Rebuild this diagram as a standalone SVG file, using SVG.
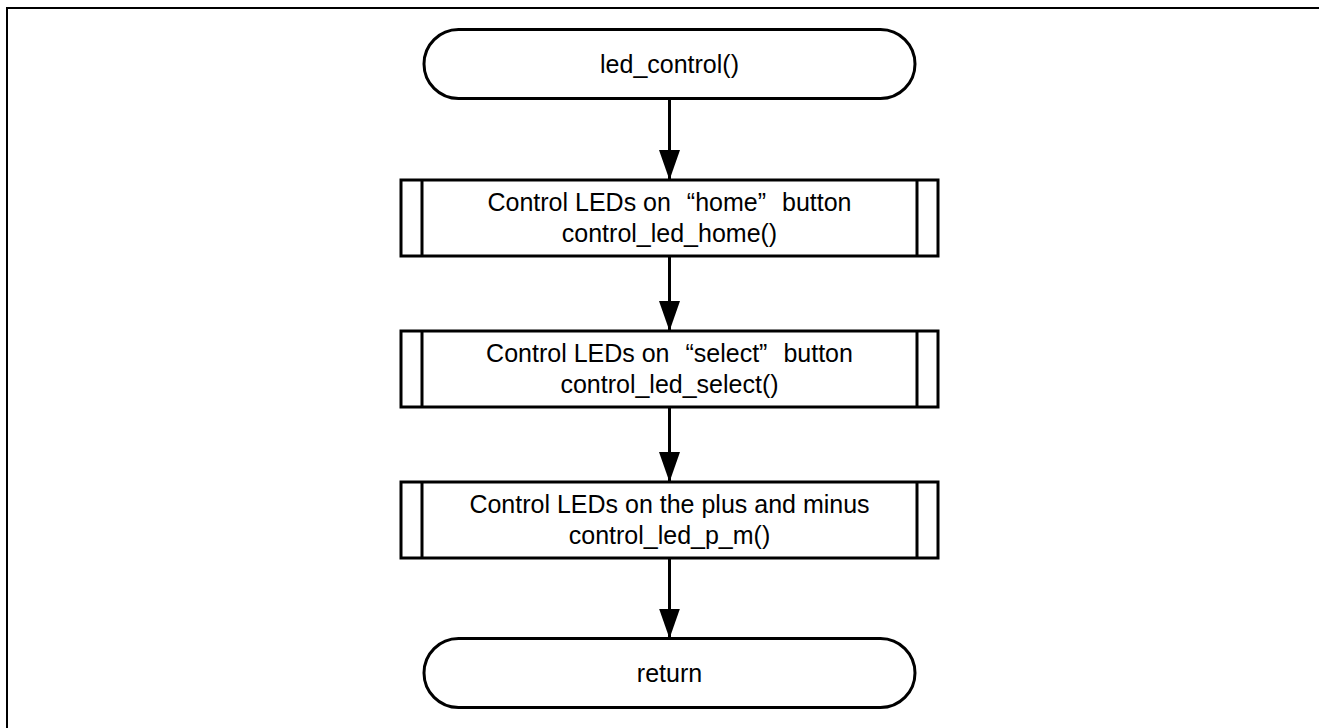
<svg xmlns="http://www.w3.org/2000/svg" width="1319" height="728" viewBox="0 0 1319 728">
<style>
.t{font-family:"Liberation Sans",Arial,sans-serif;font-size:25px;fill:#000;text-anchor:middle}
.s{fill:#fff;stroke:#000;stroke-width:3}
.c{fill:none;stroke:#000;stroke-width:3}
</style>
<defs>
<marker id="ah" viewBox="0 0 30 21" refX="30" refY="10.5" markerWidth="30" markerHeight="21" markerUnits="userSpaceOnUse" orient="auto">
<path d="M0,0 L30,10.5 L0,21 Z" fill="#000"/>
</marker>
</defs>
<rect width="1319" height="728" fill="#fff"/>
<path d="M7,728 V8 H1319" fill="none" stroke="#000" stroke-width="2"/>
<g id="connectors">
<path class="c" d="M669.5,98.5 V180" marker-end="url(#ah)"/>
<path class="c" d="M669.5,256 V331" marker-end="url(#ah)"/>
<path class="c" d="M669.5,407 V482" marker-end="url(#ah)"/>
<path class="c" d="M669.5,558 V638.5" marker-end="url(#ah)"/>
</g>
<g id="start">
<rect class="s" x="424" y="29.5" width="491" height="69" rx="34.5"/>
<text class="t" x="669.5" y="72.5">led_control()</text>
</g>
<g id="home">
<rect class="s" x="401" y="180" width="537" height="76"/>
<path class="c" d="M422,180 V256 M917,180 V256"/>
<text class="t" x="669.5" y="211">Control LEDs on <tspan dx="9">“</tspan>home”<tspan dx="9"> button</tspan></text>
<text class="t" x="669.5" y="242">control_led_home()</text>
</g>
<g id="select">
<rect class="s" x="401" y="331" width="537" height="76"/>
<path class="c" d="M422,331 V407 M917,331 V407"/>
<text class="t" x="669.5" y="362">Control LEDs on <tspan dx="9">“</tspan>select”<tspan dx="9"> button</tspan></text>
<text class="t" x="669.5" y="393">control_led_select()</text>
</g>
<g id="pm">
<rect class="s" x="401" y="482" width="537" height="76"/>
<path class="c" d="M422,482 V558 M917,482 V558"/>
<text class="t" x="669.5" y="513">Control LEDs on the plus and minus</text>
<text class="t" x="669.5" y="544">control_led_p_m()</text>
</g>
<g id="return">
<rect class="s" x="424" y="638.5" width="491" height="69" rx="34.5"/>
<text class="t" x="669.5" y="681.5">return</text>
</g>
</svg>
